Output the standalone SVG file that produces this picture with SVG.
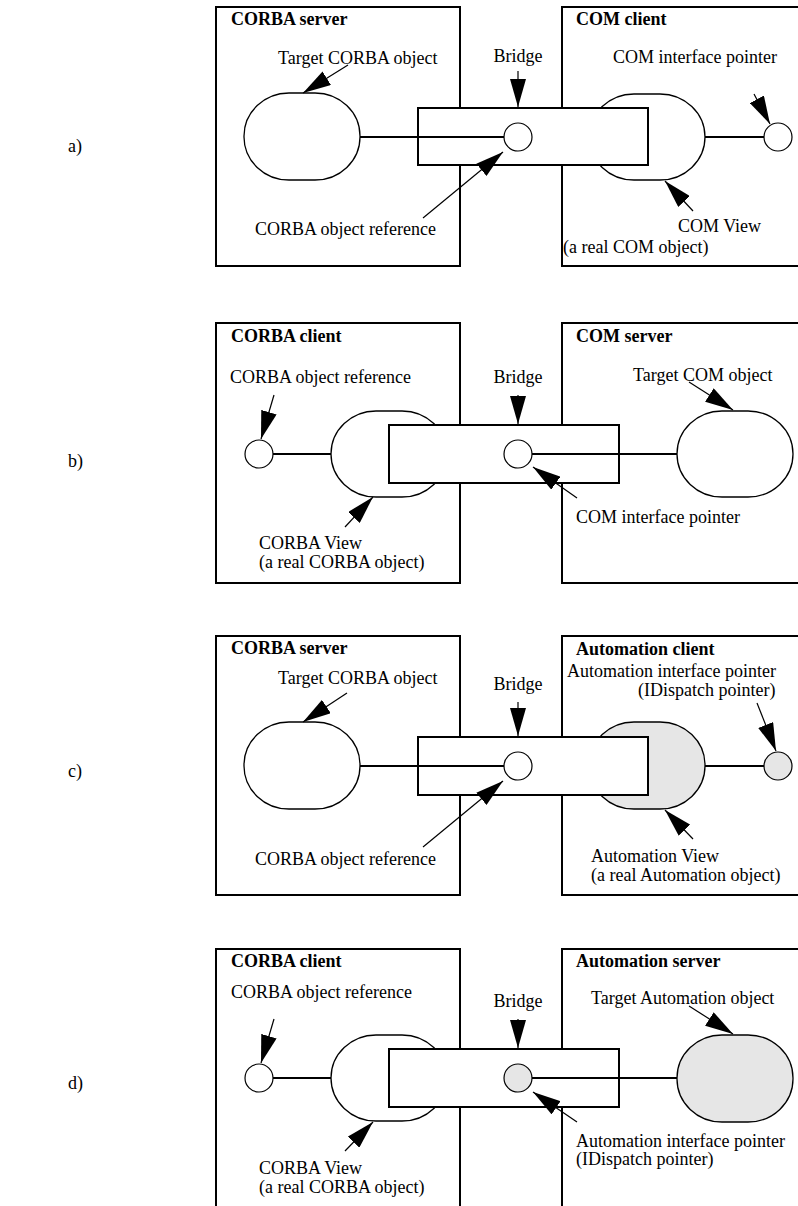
<svg xmlns="http://www.w3.org/2000/svg" width="798" height="1206" viewBox="0 0 798 1206">
<style>
text{font-family:"Liberation Serif","Times New Roman",serif;font-size:18px;fill:#000}
.t{font-weight:bold}
.mid{text-anchor:middle}
.box{fill:none;stroke:#000;stroke-width:2}
.br{fill:#fff;stroke:#000;stroke-width:2}
.blob{fill:#fff;stroke:#000;stroke-width:1.3}
.ln{stroke:#000;stroke-width:2;fill:none}
.cir{fill:#fff;stroke:#000;stroke-width:1.2}
.gray{fill:#e6e6e6}
.ar{stroke:#000;stroke-width:1.2;fill:none;marker-end:url(#ah)}
</style>
<defs>
<marker id="ah" viewBox="0 0 28 16" refX="28" refY="8" markerWidth="28" markerHeight="16" markerUnits="userSpaceOnUse" orient="auto">
<path d="M0,0 L28,8 L0,16 z" fill="#000"/>
</marker>
</defs>
<rect width="798" height="1206" fill="#fff"/>

<text x="68" y="152">a)</text>
<text x="68" y="467">b)</text>
<text x="68" y="777">c)</text>
<text x="68" y="1089">d)</text>

<!-- Panel a -->
<g id="a-corba-server"><rect class="box" x="216" y="7" width="244" height="259"/><text class="t" x="231" y="25">CORBA server</text></g>
<g id="a-com-client"><rect class="box" x="562" y="7" width="240" height="259"/><text class="t" x="576" y="25">COM client</text></g>
<g id="a-target"><rect class="blob" x="244" y="93" width="116" height="87" rx="45" ry="43"/><text x="278" y="64">Target CORBA object</text></g>
<g id="a-comview"><rect class="blob" x="589" y="94" width="116" height="86" rx="45" ry="43"/><text x="678" y="232">COM View</text><text x="563" y="253">(a real COM object)</text></g>
<g id="a-bridge"><rect class="br" x="418" y="108" width="230" height="57"/><text class="mid" x="518" y="62">Bridge</text></g>
<g id="a-ref"><circle class="cir" cx="518" cy="137" r="14"/><text x="255" y="235">CORBA object reference</text></g>
<g id="a-iptr"><circle class="cir" cx="778" cy="137" r="14"/><text x="613" y="63">COM interface pointer</text></g>

<!-- Panel b -->
<g id="b-corba-client"><rect class="box" x="216" y="323" width="244" height="260"/><text class="t" x="231" y="342">CORBA client</text></g>
<g id="b-com-server"><rect class="box" x="562" y="323" width="240" height="260"/><text class="t" x="576" y="342">COM server</text></g>
<g id="b-ref"><circle class="cir" cx="259" cy="454" r="14"/><text x="230" y="383">CORBA object reference</text></g>
<g id="b-corbaview"><rect class="blob" x="331" y="411" width="116" height="86" rx="45" ry="43"/><text x="259" y="549">CORBA View</text><text x="259" y="568">(a real CORBA object)</text></g>
<g id="b-bridge"><rect class="br" x="389" y="425" width="230" height="58"/><text class="mid" x="518" y="383">Bridge</text></g>
<g id="b-iptr"><circle class="cir" cx="518" cy="454" r="14"/><text x="576" y="523">COM interface pointer</text></g>
<g id="b-target"><rect class="blob" x="677" y="411" width="116" height="86" rx="45" ry="43"/><text x="633" y="381">Target COM object</text></g>

<!-- Panel c -->
<g id="c-corba-server"><rect class="box" x="216" y="636" width="244" height="259"/><text class="t" x="231" y="654">CORBA server</text></g>
<g id="c-auto-client"><rect class="box" x="562" y="636" width="240" height="259"/><text class="t" x="576" y="655">Automation client</text></g>
<g id="c-target"><rect class="blob" x="244" y="722" width="116" height="87" rx="45" ry="43"/><text x="278" y="684">Target CORBA object</text></g>
<g id="c-autoview"><rect class="blob gray" x="589" y="722" width="116" height="87" rx="45" ry="43"/><text x="591" y="862">Automation View</text><text x="591" y="881">(a real Automation object)</text></g>
<g id="c-bridge"><rect class="br" x="418" y="737" width="230" height="58"/><text class="mid" x="518" y="690">Bridge</text></g>
<g id="c-ref"><circle class="cir" cx="518" cy="766" r="14"/><text x="255" y="865">CORBA object reference</text></g>
<g id="c-iptr"><circle class="cir gray" cx="778" cy="766" r="14"/><text x="567" y="677">Automation interface pointer</text><text x="638" y="696">(IDispatch pointer)</text></g>

<!-- Panel d -->
<g id="d-corba-client"><rect class="box" x="216" y="949" width="244" height="270"/><text class="t" x="231" y="967">CORBA client</text></g>
<g id="d-auto-server"><rect class="box" x="562" y="949" width="240" height="270"/><text class="t" x="576" y="967">Automation server</text></g>
<g id="d-ref"><circle class="cir" cx="259" cy="1078" r="14"/><text x="231" y="998">CORBA object reference</text></g>
<g id="d-corbaview"><rect class="blob" x="331" y="1035" width="116" height="86" rx="45" ry="43"/><text x="259" y="1174">CORBA View</text><text x="259" y="1193">(a real CORBA object)</text></g>
<g id="d-bridge"><rect class="br" x="389" y="1049" width="230" height="58"/><text class="mid" x="518" y="1007">Bridge</text></g>
<g id="d-iptr"><circle class="cir gray" cx="518" cy="1078" r="14"/><text x="576" y="1147">Automation interface pointer</text><text x="576" y="1165">(IDispatch pointer)</text></g>
<g id="d-target"><rect class="blob gray" x="677" y="1035" width="116" height="87" rx="45" ry="43"/><text x="591" y="1004">Target Automation object</text></g>

<g id="connectors">
<line class="ln" x1="360" y1="137" x2="504" y2="137"/>
<line class="ln" x1="705" y1="137" x2="764" y2="137"/>
<line class="ar" x1="348" y1="65" x2="303" y2="93"/>
<line class="ar" x1="518" y1="71" x2="518" y2="107"/>
<line class="ar" x1="423" y1="218" x2="503" y2="152"/>
<line class="ar" x1="754" y1="94" x2="770" y2="124"/>
<line class="ar" x1="693" y1="211" x2="665" y2="181"/>

<line class="ln" x1="273" y1="454" x2="331" y2="454"/>
<line class="ln" x1="532" y1="454" x2="677" y2="454"/>
<line class="ar" x1="274" y1="395" x2="261" y2="439"/>
<line class="ar" x1="518" y1="395" x2="518" y2="424"/>
<line class="ar" x1="689" y1="382" x2="733" y2="410"/>
<line class="ar" x1="577" y1="498" x2="533" y2="467"/>
<line class="ar" x1="345" y1="527" x2="373" y2="497"/>

<line class="ln" x1="360" y1="766" x2="504" y2="766"/>
<line class="ln" x1="705" y1="766" x2="764" y2="766"/>
<line class="ar" x1="347" y1="693" x2="303" y2="722"/>
<line class="ar" x1="518" y1="702" x2="518" y2="736"/>
<line class="ar" x1="423" y1="847" x2="503" y2="781"/>
<line class="ar" x1="757" y1="703" x2="776" y2="751"/>
<line class="ar" x1="693" y1="839" x2="665" y2="810"/>

<line class="ln" x1="273" y1="1078" x2="331" y2="1078"/>
<line class="ln" x1="532" y1="1078" x2="677" y2="1078"/>
<line class="ar" x1="274" y1="1019" x2="261" y2="1063"/>
<line class="ar" x1="518" y1="1019" x2="518" y2="1048"/>
<line class="ar" x1="689" y1="1006" x2="733" y2="1034"/>
<line class="ar" x1="577" y1="1122" x2="533" y2="1092"/>
<line class="ar" x1="345" y1="1151" x2="373" y2="1122"/>
</g>
</svg>
